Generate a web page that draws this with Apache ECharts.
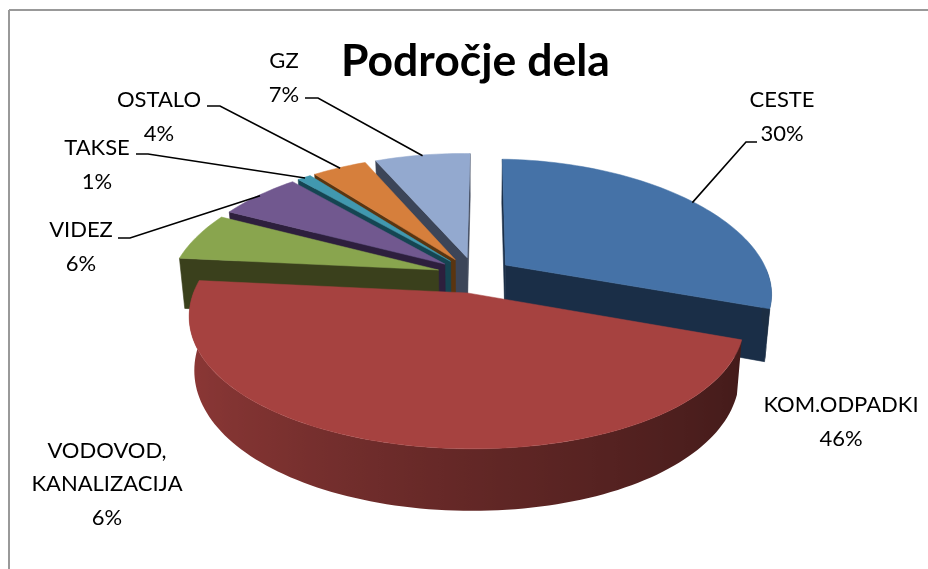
<!DOCTYPE html>
<html lang="sl">
<head>
<meta charset="UTF-8">
<script src="https://cdn.jsdelivr.net/npm/echarts@6/dist/echarts.min.js"></script>
<style>
    html, body { margin: 0; padding: 0; background: #fff; }
    #main { width: 928px; height: 569px; }
</style>
</head>
<body>
<div id="main"></div>
<script>
// values, clockwise from 12 o'clock
var categories = ['CESTE', 'KOM.ODPADKI', 'VODOVOD,\nKANALIZACIJA', 'VIDEZ', 'TAKSE', 'OSTALO', 'GZ'];
var shares = [30, 46, 6, 6, 1, 4, 7];

var topColors = ['#4572A7', '#A64240', '#89A54E', '#71588F', '#4198AF', '#D67F3C', '#93A9CF'];
var wallColors = ['#1A2E47', '#431A16', '#3A401C', '#2D1F3D', '#154552', '#5A3510', '#3C4558'];

// label centre, then the leader's start and knee (null = no leader)
var labelPlaces = [
    {x: 782, y: 117, leader: [[757, 142], [746, 142]]},
    {x: 841, y: 422, leader: null},
    {x: 107, y: 484, leader: null},
    {x: 81, y: 247, leader: [[118, 238], [130, 238]]},
    {x: 97, y: 165, leader: [[136, 154], [148, 154]]},
    {x: 159, y: 117, leader: [[207, 106], [220, 106]]},
    {x: 284, y: 78, leader: [[305, 98], [318, 98]]}
];

// the fake 3d camera
var cx = 475, cy = 275, radius = 265, explode = 38;
var focal = 1700, focalX = 1400, horizon = 804, thickness = 51, taper = 0.018, roll = 0.9;

var total = shares.reduce(function (a, b) { return a + b; }, 0);
var rad = Math.PI / 180;
var slices = [];
var running = 0;
shares.forEach(function (v, i) {
    var from = running / total * 360;
    running += v;
    var to = running / total * 360;
    slices.push({index: i, from: from, to: to, mid: (from + to) / 2});
});

function project(s, angle, r, drop) {
    var X = r * Math.sin(angle * rad) + explode * Math.sin(s.mid * rad);
    var D = r * Math.cos(angle * rad) + explode * Math.cos(s.mid * rad);
    var k = focal / (focal + D);
    var x = X * focalX / (focalX + D);
    var y = horizon * k - horizon;
    // original sits slightly rolled on screen
    var sn = Math.sin(roll * rad), cs = Math.cos(roll * rad);
    var rx = x * cs - y * sn;
    var ry = x * sn + y * cs;
    return [cx + rx * (1 - taper * drop / thickness), cy + ry + drop * k];
}

function mixDark(hex, f) {
    var n = parseInt(hex.slice(1), 16);
    var r = Math.round(((n >> 16) & 255) * f);
    var g = Math.round(((n >> 8) & 255) * f);
    var b = Math.round((n & 255) * f);
    return 'rgb(' + r + ',' + g + ',' + b + ')';
}

// front walls get darker towards the right
function wallShade(angle) {
    var t = (1 - Math.sin(angle * rad)) / 2;
    if (t < 0.5) return 0.4 + 0.4 * t;
    return 0.6 + 0.5 * (t - 0.5);
}

function signedArea(pts) {
    var a = 0;
    for (var i = 0; i < pts.length; i++) {
        var p = pts[i], q = pts[(i + 1) % pts.length];
        a += p[0] * q[1] - q[0] * p[1];
    }
    return a;
}

function quad(p, q, p2, q2, fill) {
    var pts = [p, q, q2, p2];
    if (signedArea(pts) >= 0) return null;
    return {
        type: 'polygon',
        shape: {points: pts},
        style: {fill: fill, stroke: fill, lineWidth: 0.6}
    };
}

// outer rim as one shape, only the part that faces us (angles 90..270)
function rimWall(s) {
    var from = Math.max(s.from, 90), to = Math.min(s.to, 270);
    if (to <= from) return null;
    var upper = [], lower = [], stops = [];
    var n = Math.ceil((to - from) / 1.5);
    var xRight = project(s, from, radius, thickness)[0];
    var xLeft = project(s, to, radius, 0)[0];
    for (var j = 0; j <= n; j++) {
        var a = from + (to - from) * j / n;
        var p = project(s, a, radius, 0);
        upper.push(p);
        lower.unshift(project(s, a, radius, thickness));
        var off = (p[0] - xLeft) / (xRight - xLeft);
        stops.unshift({offset: Math.min(1, Math.max(0, off)), color: mixDark(topColors[s.index], wallShade(a))});
    }
    return {
        type: 'polygon',
        shape: {points: upper.concat(lower)},
        style: {fill: new echarts.graphic.LinearGradient(xLeft, 0, xRight, 0, stops, true)}
    };
}

function renderSlice(params, api) {
    var s = slices[api.value(0)];
    var i = s.index;
    var kids = [];
    var apex = project(s, s.mid, 0, 0);
    var apexLow = project(s, s.mid, 0, thickness);
    var first = project(s, s.from, radius, 0);
    var firstLow = project(s, s.from, radius, thickness);
    var last = project(s, s.to, radius, 0);
    var lastLow = project(s, s.to, radius, thickness);

    var w1 = quad(apex, first, apexLow, firstLow, wallColors[i]);
    var w2 = quad(last, apex, lastLow, apexLow, wallColors[i]);
    if (w1) kids.push(w1);
    if (w2) kids.push(w2);
    var rim = rimWall(s);
    if (rim) kids.push(rim);

    var top = [apex];
    var n = Math.max(2, Math.ceil((s.to - s.from) / 1.5));
    for (var j = 0; j <= n; j++) {
        top.push(project(s, s.from + (s.to - s.from) * j / n, radius, 0));
    }
    kids.push({
        type: 'polygon',
        shape: {points: top},
        style: {fill: topColors[i], stroke: topColors[i], lineWidth: 0.5}
    });
    return {type: 'group', children: kids};
}

function renderLabel(params, api) {
    var i = api.value(0);
    var s = slices[i];
    var place = labelPlaces[i];
    var kids = [];
    if (place.leader) {
        kids.push({
            type: 'polyline',
            shape: {points: place.leader.concat([project(s, s.mid, radius - 2, 0)])},
            style: {fill: null, stroke: '#000', lineWidth: 1.6}
        });
    }
    kids.push({
        type: 'text',
        style: {
            text: categories[i] + '\n' + shares[i] + '%',
            x: place.x,
            y: place.y,
            align: 'center',
            verticalAlign: 'middle',
            fontFamily: 'Lato',
            fontSize: 22,
            lineHeight: 33.5,
            fill: '#000'
        }
    });
    return {type: 'group', children: kids};
}

// back slices first so the front ones paint over them
var drawOrder = slices.slice().sort(function (a, b) {
    return Math.cos(b.mid * rad) - Math.cos(a.mid * rad);
}).map(function (s) { return s.index; });

var chart = echarts.init(document.getElementById('main'), null, {renderer: 'canvas'});
chart.setOption({
    animation: false,
    backgroundColor: '#fff',
    title: {
        text: 'Področje dela',
        left: 341,
        top: 39,
        padding: 0,
        textStyle: {fontFamily: 'Lato', fontWeight: 'bold', fontSize: 44.5, color: '#000'}
    },
    graphic: [
        {type: 'line', shape: {x1: 9, y1: 10, x2: 928, y2: 10}, style: {stroke: '#999', lineWidth: 2}},
        {type: 'line', shape: {x1: 9, y1: 10, x2: 9, y2: 569}, style: {stroke: '#999', lineWidth: 2}}
    ],
    series: [
        {
            type: 'custom',
            coordinateSystem: 'none',
            silent: true,
            renderItem: renderSlice,
            encode: {},
            data: drawOrder.map(function (i) { return [i]; })
        },
        {
            type: 'custom',
            coordinateSystem: 'none',
            silent: true,
            z: 5,
            renderItem: renderLabel,
            encode: {},
            data: categories.map(function (c, i) { return [i]; })
        }
    ]
});
</script>
</body>
</html>
